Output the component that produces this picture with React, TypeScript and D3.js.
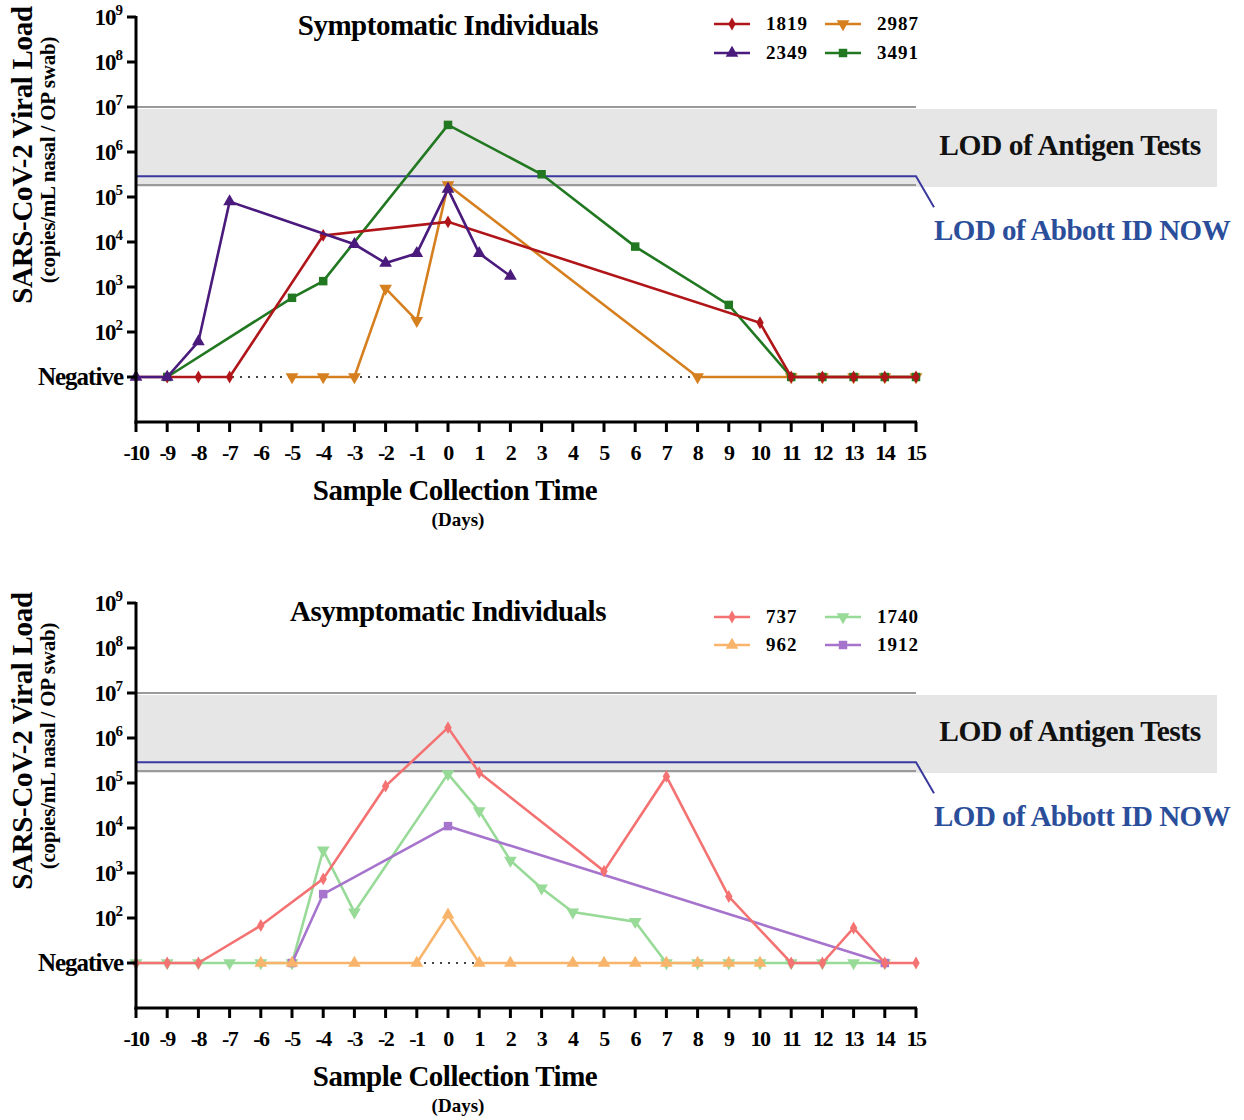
import React from "react";
import * as d3 from "d3";

// day offsets and viral loads (copies/mL); 0 = negative
const days1819 = [-10, -9, -8, -7, -4, 0, 10, 11, 12, 13, 14, 15];
const vals1819 = [0, 0, 0, 0, 1.4e4, 2.8e4, 160, 0, 0, 0, 0, 0];
const days2349 = [-10, -9, -8, -7, -3, -2, -1, 0, 1, 2];
const vals2349 = [0, 0, 61, 7.9e4, 8.9e3, 3.4e3, 5.6e3, 1.5e5, 5.6e3, 1.75e3];
const days2987 = [-5, -4, -3, -2, -1, 0, 8, 11, 12, 13, 14, 15];
const vals2987 = [0, 0, 0, 930, 178, 1.85e5, 0, 0, 0, 0, 0, 0];
const days3491 = [-9, -5, -4, 0, 3, 6, 9, 11, 12, 13, 14, 15];
const vals3491 = [0, 575, 1.35e3, 4e6, 3.2e5, 7.9e3, 400, 0, 0, 0, 0, 0];

const days737 = [-10, -9, -8, -6, -4, -2, 0, 1, 5, 7, 9, 11, 12, 13, 14, 15];
const vals737 = [0, 0, 0, 68, 740, 8.5e4, 1.7e6, 1.7e5, 1.1e3, 1.4e5, 300, 0, 0, 60, 0, 0];
const days962 = [-6, -5, -3, -1, 0, 1, 2, 4, 5, 6, 7, 8, 9, 10];
const vals962 = [0, 0, 0, 0, 117, 0, 0, 0, 0, 0, 0, 0, 0, 0];
const days1740 = [-10, -9, -8, -7, -6, -5, -4, -3, 0, 1, 2, 3, 4, 6, 7, 8, 9, 10, 11, 12, 13, 14];
const vals1740 = [0, 0, 0, 0, 0, 0, 3.2e3, 135, 1.6e5, 2.4e4, 1.9e3, 460, 135, 83, 0, 0, 0, 0, 0, 0, 0, 0];
const days1912 = [-5, -4, 0, 14];
const vals1912 = [0, 340, 1.1e4, 0];

const xTicks = d3.range(-10, 16);
const yTickExps = [2, 3, 4, 5, 6, 7, 8, 9];
const antigenBand = [1.85e5, 1e7];
const abbottLod = 2.9e5;
const NEG = 10;

type Sym = "diamond" | "triUp" | "triDown" | "square";
interface Series {
  name: string;
  days: number[];
  values: number[];
  color: string;
  sym: Sym;
}

const topSeries: Series[] = [
  {name: "2987", days: days2987, values: vals2987, color: "#d67f1f", sym: "triDown"},
  {name: "3491", days: days3491, values: vals3491, color: "#217821", sym: "square"},
  {name: "1819", days: days1819, values: vals1819, color: "#b01519", sym: "diamond"},
  {name: "2349", days: days2349, values: vals2349, color: "#4a1a7c", sym: "triUp"},
];
const topLegend = [["1819", "2987"], ["2349", "3491"]];

const bottomSeries: Series[] = [
  {name: "1740", days: days1740, values: vals1740, color: "#98da98", sym: "triDown"},
  {name: "1912", days: days1912, values: vals1912, color: "#a674cc", sym: "square"},
  {name: "962", days: days962, values: vals962, color: "#f8b46a", sym: "triUp"},
  {name: "737", days: days737, values: vals737, color: "#f47272", sym: "diamond"},
];
const bottomLegend = [["737", "1740"], ["962", "1912"]];

const serif = "'Liberation Serif', 'Times New Roman', serif";

const x = d3.scaleLinear().domain([-10, 15]).range([136, 916]);
const y = d3.scaleLog().domain([1, 1e9]).range([422, 17]);

const symPath = (s: Sym) => {
  if (s === "diamond") return d3.symbol(d3.symbolDiamond, 48)() as string;
  if (s === "square") return d3.symbol(d3.symbolSquare, 72)() as string;
  return d3.symbol(d3.symbolTriangle, 70)() as string;
};

const Marker: React.FC<{s: Sym; color: string; cx: number; cy: number}> = ({s, color, cx, cy}) => (
  <path
    d={symPath(s)}
    fill={color}
    transform={`translate(${cx},${cy})${s === "triDown" ? " rotate(180)" : ""}`}
  />
);

const Panel: React.FC<{dy: number; title: string; series: Series[]; legend: string[][]; legendY: number[]}> = ({
  dy, title, series, legend, legendY,
}) => {
  const line = d3
    .line<[number, number]>()
    .x((d) => x(d[0]))
    .y((d) => y(d[1] === 0 ? NEG : d[1]));
  const byName = (n: string) => series.find((s) => s.name === n)!;
  return (
    <g transform={`translate(0,${dy})`} fontFamily={serif}>
      {/* antigen band */}
      <rect x={136} y={y(antigenBand[1]) + 2} width={1217 - 136} height={y(antigenBand[0]) - y(antigenBand[1])} fill="#e6e6e6" />
      <line x1={136} x2={916} y1={y(antigenBand[1])} y2={y(antigenBand[1])} stroke="#9a9a9a" strokeWidth={2} />
      <line x1={136} x2={916} y1={y(antigenBand[0])} y2={y(antigenBand[0])} stroke="#9a9a9a" strokeWidth={2} />
      <path
        d={`M136,${y(abbottLod)}H916L934,${y(abbottLod) + 31}`}
        fill="none"
        stroke="#3a3a9e"
        strokeWidth={2}
      />
      <text x={1070} y={155} textAnchor="middle" fontSize={29.5} fontWeight="bold" fill="#111" letterSpacing={-0.5}>
        LOD of Antigen Tests
      </text>
      <text x={934} y={240} fontSize={29} fontWeight="bold" fill="#2b4e9b" letterSpacing={-0.5}>
        LOD of Abbott ID NOW
      </text>

      {/* negative baseline */}
      <line x1={136} x2={916} y1={y(NEG)} y2={y(NEG)} stroke="#444" strokeWidth={2.2} strokeDasharray="2 6" />

      {/* series */}
      {series.map((s) => {
        const pts = s.days.map((d, i) => [d, s.values[i]] as [number, number]);
        return (
          <g key={s.name}>
            <path d={line(pts) as string} fill="none" stroke={s.color} strokeWidth={2.6} />
            {pts.map((p, i) => (
              <Marker key={i} s={s.sym} color={s.color} cx={x(p[0])} cy={y(p[1] === 0 ? NEG : p[1])} />
            ))}
          </g>
        );
      })}

      {/* axes */}
      <line x1={136} x2={136} y1={y(1e9) - 1} y2={y(1) + 1.5} stroke="#000" strokeWidth={3} />
      <line x1={134.5} x2={917} y1={y(1)} y2={y(1)} stroke="#000" strokeWidth={3} />
      {yTickExps.map((e) => (
        <g key={e}>
          <line x1={127} x2={136} y1={y(10 ** e)} y2={y(10 ** e)} stroke="#000" strokeWidth={3} />
          <text x={122} y={y(10 ** e) + 8} textAnchor="end" fontSize={23} fontWeight="bold" letterSpacing={-1}>
            10<tspan dy={-10} fontSize={15}>{e}</tspan>
          </text>
        </g>
      ))}
      <line x1={127} x2={136} y1={y(NEG)} y2={y(NEG)} stroke="#000" strokeWidth={3} />
      <text x={123} y={y(NEG) + 8} textAnchor="end" fontSize={25} fontWeight="bold" letterSpacing={-1}>
        Negative
      </text>
      {xTicks.map((t) => (
        <g key={t}>
          <line x1={x(t)} x2={x(t)} y1={y(1)} y2={y(1) + 10} stroke="#000" strokeWidth={3} />
          <text x={x(t)} y={y(1) + 38} textAnchor="middle" fontSize={22} fontWeight="bold" letterSpacing={-1.5}>
            {t}
          </text>
        </g>
      ))}
      <text x={455} y={500} textAnchor="middle" fontSize={29} fontWeight="bold" letterSpacing={-0.5}>
        Sample Collection Time
      </text>
      <text x={458} y={526} textAnchor="middle" fontSize={19} fontWeight="bold">
        (Days)
      </text>
      <text transform="translate(32,155) rotate(-90)" textAnchor="middle" fontSize={29} fontWeight="bold" letterSpacing={-0.3}>
        SARS-CoV-2 Viral Load
      </text>
      <text transform="translate(55,160) rotate(-90)" textAnchor="middle" fontSize={21} fontWeight="bold" letterSpacing={-0.2}>
        (copies/mL nasal / OP swab)
      </text>

      {/* title + legend */}
      <text x={448} y={35} textAnchor="middle" fontSize={29} fontWeight="bold" letterSpacing={-0.5}>
        {title}
      </text>
      {legend.map((row, r) =>
        row.map((n, c) => {
          const s = byName(n);
          const lx = c === 0 ? 714 : 825;
          const ly = legendY[r];
          return (
            <g key={n}>
              <line x1={lx} x2={lx + 36} y1={ly} y2={ly} stroke={s.color} strokeWidth={2.6} />
              <Marker s={s.sym} color={s.color} cx={lx + 18} cy={ly} />
              <text x={lx + 52} y={ly + 6} fontSize={19} fontWeight="bold" letterSpacing={1}>
                {n}
              </text>
            </g>
          );
        })
      )}
    </g>
  );
};

export default function App() {
  return (
    <svg width={1244} height={1120} style={{position: "absolute", left: 0, top: 0, background: "#fff"}}>
      <rect width={1244} height={1120} fill="#fff" />
      <Panel dy={0} title="Symptomatic Individuals" series={topSeries} legend={topLegend} legendY={[24, 53]} />
      <Panel dy={586} title="Asymptomatic Individuals" series={bottomSeries} legend={bottomLegend} legendY={[31, 59]} />
    </svg>
  );
}
